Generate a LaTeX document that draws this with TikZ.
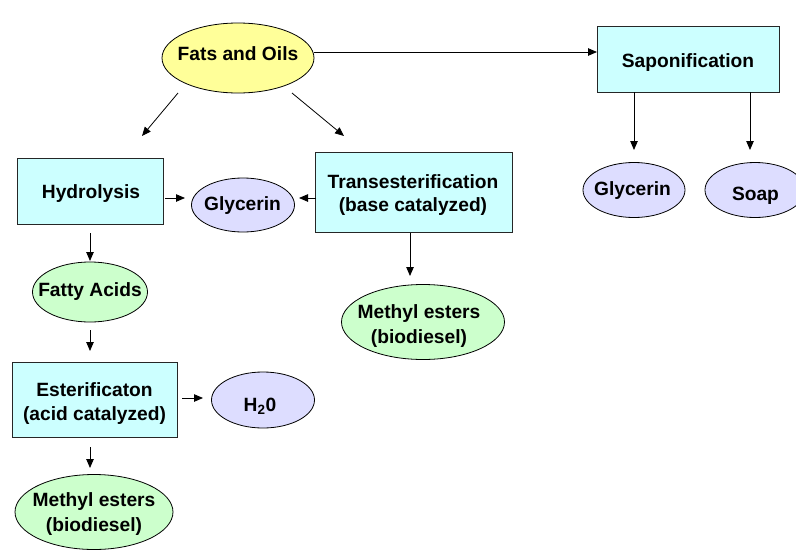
\documentclass[tikz,border=0pt]{standalone}
\usepackage{fontspec}
\setmainfont{Liberation Sans}
\usetikzlibrary{shapes.geometric,arrows.meta}
\definecolor{fyellow}{HTML}{FFFF99}
\definecolor{fcyan}{HTML}{CCFFFF}
\definecolor{fpurple}{HTML}{DDDDFF}
\definecolor{fgreen}{HTML}{CCFFCC}
\begin{document}
\begin{tikzpicture}[x=1pt,y=-1pt,
  procbox/.style={draw=black!85, fill=fcyan, line width=0.8pt, rectangle, inner sep=0pt},
  oval/.style={draw=black, line width=0.8pt, ellipse, inner sep=0pt},
  lbl/.style={font=\fontsize{19.2}{24}\selectfont\bfseries, inner sep=0pt, text height=13.7pt, text depth=0pt},
  arr/.style={line width=0.8pt, -{Triangle[length=9pt,width=7.5pt]}}]
\useasboundingbox (0,0) rectangle (796,552);
% shapes
\node[oval, fill=fyellow, minimum width=152pt, minimum height=70pt] (fats) at (238,58) {};
\node[procbox, minimum width=182pt, minimum height=66pt] (sapo) at (688,59) {};
\node[procbox, minimum width=146pt, minimum height=66pt] (hydro) at (90,191) {};
\node[procbox, minimum width=197pt, minimum height=80pt] (trans) at (413.5,192) {};
\node[oval, fill=fpurple, minimum width=103pt, minimum height=54pt] (gly1) at (243,205) {};
\node[oval, fill=fgreen, minimum width=163pt, minimum height=75pt] (meth1) at (423,322) {};
\node[oval, fill=fgreen, minimum width=115pt, minimum height=60pt] (fatty) at (90,292) {};
\node[procbox, minimum width=165pt, minimum height=75pt] (ester) at (94.5,399.5) {};
\node[oval, fill=fpurple, minimum width=103pt, minimum height=56pt] (water) at (263,400) {};
\node[oval, fill=fgreen, minimum width=158pt, minimum height=75pt] (meth2) at (94,512) {};
\node[oval, fill=fpurple, minimum width=102pt, minimum height=55pt] (gly2) at (634,190) {};
\node[oval, fill=fpurple, minimum width=100pt, minimum height=55pt] (soap) at (755,190) {};
% texts
\node[lbl] (tfats) at (238,53.5) {Fats and Oils};
\node[lbl] (tsapo) at (688,61) {Saponification};
\node[lbl] (thydro) at (91,192) {Hydrolysis};
\node[lbl] (ttrans1) at (413,181.5) {Transesterification};
\node[lbl] (ttrans2) at (413,205) {(base catalyzed)};
\node[lbl] (tgly1) at (242.5,203.5) {Glycerin};
\node[lbl] (tmeth1a) at (419,311.5) {Methyl esters};
\node[lbl] (tmeth1b) at (419,336.5) {(biodiesel)};
\node[lbl] (tfatty) at (90,290) {Fatty Acids};
\node[lbl] (tester1) at (94.5,390) {Esterificaton};
\node[lbl] (tester2) at (94.5,413.5) {(acid catalyzed)};
\node[lbl] (twater) at (260,404.5) {H\textsubscript{2}0};
\node[lbl] (tmeth2a) at (94,499.5) {Methyl esters};
\node[lbl] (tmeth2b) at (94,524.5) {(biodiesel)};
\node[lbl] (tgly2) at (632.5,188.5) {Glycerin};
\node[lbl] (tsoap) at (755.5,194) {Soap};
% connector end points
\coordinate (p1s) at (314,52);  \coordinate (p1e) at (597,52);
\coordinate (p2s) at (178,93);  \coordinate (p2e) at (142,136);
\coordinate (p3s) at (292,93);  \coordinate (p3e) at (344,136);
\coordinate (p4s) at (165,198); \coordinate (p4e) at (185,198);
\coordinate (p5s) at (316,198); \coordinate (p5e) at (299,198);
\coordinate (p6s) at (410,233); \coordinate (p6e) at (410,276);
\coordinate (p7s) at (90,233);  \coordinate (p7e) at (90,261);
\coordinate (p8s) at (90,330);  \coordinate (p8e) at (90,351);
\coordinate (p9s) at (182,398); \coordinate (p9e) at (203,398);
\coordinate (p10s) at (90,447); \coordinate (p10e) at (90,468);
\coordinate (p11s) at (634,92); \coordinate (p11e) at (634,150);
\coordinate (p12s) at (750,92); \coordinate (p12e) at (750,150);
% connectors
\foreach \i in {1,...,12} {\draw[arr] (p\i s) -- (p\i e);}
\end{tikzpicture}
\end{document}
